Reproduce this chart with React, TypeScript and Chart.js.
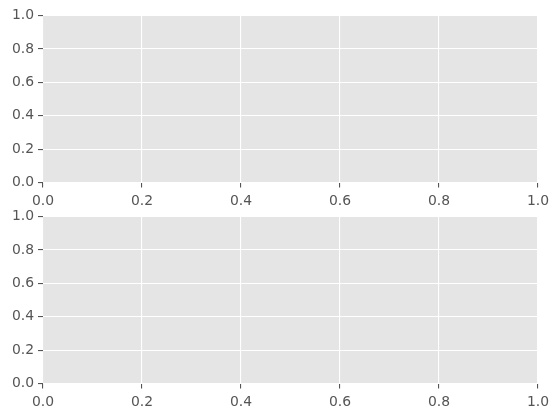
import React, { useEffect, useRef } from "react";
import { Chart, registerables } from "chart.js";

Chart.register(...registerables);

const xTicks: number[] = [0, 0.2, 0.4, 0.6, 0.8, 1.0];
const yTicks: number[] = [0, 0.2, 0.4, 0.6, 0.8, 1.0];
const seriesTop: { x: number; y: number }[] = [];
const seriesBottom: { x: number; y: number }[] = [];

const W = 558;
const H = 418;
const AREA_LEFT = 43;
const AREA_RIGHT = 538;
const XAXIS_H = 30;

const bgPlugin = {
  id: "axbg",
  beforeDraw(chart: any) {
    const { ctx, chartArea } = chart;
    ctx.save();
    ctx.fillStyle = "#E5E5E5";
    ctx.fillRect(chartArea.left, chartArea.top, chartArea.right - chartArea.left, chartArea.bottom - chartArea.top);
    ctx.restore();
  },
};

function makeScale(axis: "x" | "y", tickVals: number[]) {
  return {
    type: "linear",
    min: 0,
    max: 1,
    border: { display: false },
    grid: {
      color: "#FFFFFF",
      lineWidth: 1.1,
      drawTicks: true,
      tickLength: 5,
      tickColor: "#555555",
      tickWidth: 1.1,
    },
    ticks: {
      color: "#555555",
      font: { family: "DejaVu Sans", size: 13.9 },
      padding: axis === "x" ? 6 : 4,
      autoSkip: false,
      maxRotation: 0,
      minRotation: 0,
      callback: (v: any) => Number(v).toFixed(1),
    },
    afterBuildTicks: (scale: any) => {
      scale.ticks = tickVals.map((v) => ({ value: v }));
    },
    afterFit: (scale: any) => {
      if (axis === "y") {
        scale.width = AREA_LEFT;
        scale.paddingTop = 0;
        scale.paddingBottom = 0;
      } else {
        scale.height = XAXIS_H;
        scale.paddingLeft = 0;
        scale.paddingRight = 0;
      }
    },
  };
}

function Panel({ top, bottom, data }: { top: number; bottom: number; data: { x: number; y: number }[] }) {
  const ref = useRef<HTMLCanvasElement | null>(null);
  useEffect(() => {
    if (!ref.current) return;
    const chart = new Chart(ref.current, {
      type: "scatter",
      data: { datasets: [{ data, pointRadius: 0 }] },
      options: {
        responsive: false,
        maintainAspectRatio: false,
        animation: false,
        events: [],
        layout: {
          padding: { left: 0, right: W - AREA_RIGHT, top, bottom: H - bottom - XAXIS_H },
        },
        plugins: { legend: { display: false }, tooltip: { enabled: false }, title: { display: false } },
        scales: {
          x: makeScale("x", xTicks) as any,
          y: makeScale("y", yTicks) as any,
        },
      },
      plugins: [bgPlugin],
    });
    return () => chart.destroy();
  }, []);
  return (
    <canvas
      ref={ref}
      width={W}
      height={H}
      style={{ position: "absolute", left: 0, top: 0, width: W, height: H }}
    />
  );
}

export default function App() {
  return (
    <div style={{ position: "fixed", left: 0, top: 0, width: W, height: H, background: "#FFFFFF" }}>
      <Panel top={15.5} bottom={182.5} data={seriesTop} />
      <Panel top={216.5} bottom={383.5} data={seriesBottom} />
    </div>
  );
}
